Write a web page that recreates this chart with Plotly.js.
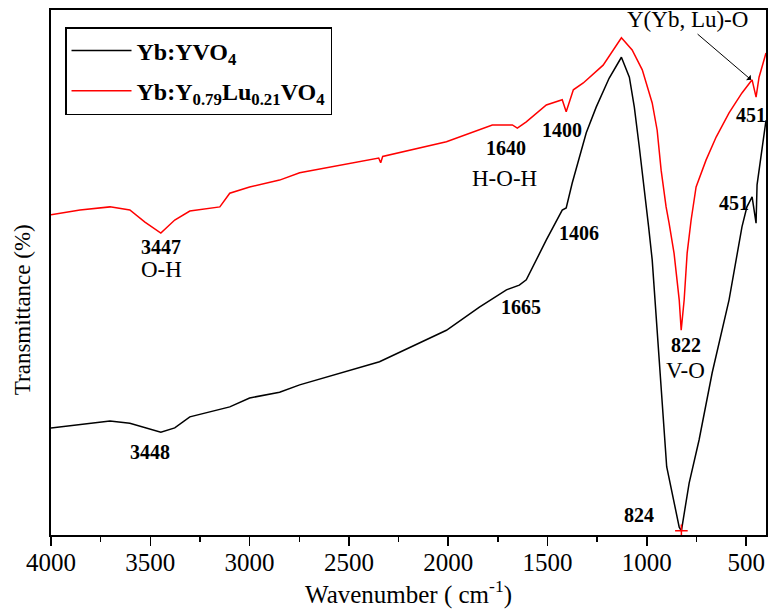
<!DOCTYPE html>
<html>
<head>
<meta charset="utf-8">
<script src="https://cdn.plot.ly/plotly-3.0.1.min.js"></script>
<style>html,body{margin:0;padding:0;background:#fff;}#chart{width:768px;height:615px;}</style>
</head>
<body>
<div id="chart"></div>
<script>
// Yb:YVO4 (black)
const blackWave = [4000,3854,3703,3603,3447,3377,3301,3100,3000,2849,2748,2346,2009,1843,1707,1642,1607,1506,1426,1406,1376,1305,1255,1190,1128,1088,1063,1038,1013,991,973,923,900,837,826,787,737,671,586,521,496,470,450,445,420,400];
const blackT    = [20.4,21.0,21.7,21.3,19.6,20.4,22.5,24.4,26.1,27.2,28.6,33.0,39.0,43.4,46.7,47.6,48.6,56.2,61.9,62.3,67.0,76.6,81.5,87.0,91.0,87.2,81.5,73.9,66.3,58.7,52.4,25.7,13.0,1.5,0.8,9.9,18.1,30.9,44.8,58.7,62.5,64.4,59.4,66.7,73.3,79.0];
// Yb:Y0.79Lu0.21VO4 (red)
const redWave = [4000,3854,3703,3603,3527,3447,3377,3301,3150,3100,3000,2849,2748,2350,2340,2330,2009,1778,1677,1652,1607,1506,1426,1406,1370,1320,1220,1128,1074,1023,973,948,928,903,888,863,837,827,812,797,777,752,702,651,586,521,470,450,435,400];
const redT    = [61.0,61.9,62.5,61.9,59.6,57.5,60.0,61.7,62.5,65.1,66.3,67.6,69.0,71.8,70.9,72.1,74.9,78.1,78.1,77.5,78.7,81.9,82.9,80.6,84.8,86.1,89.5,94.7,92.4,88.6,82.3,77.1,69.5,62.5,59.4,53.7,44.8,39.0,44.8,53.7,60.0,66.3,71.4,75.8,80.4,84.2,86.7,83.4,87.2,91.8];
const seriesNames = ["Yb:YVO<sub>4</sub>", "Yb:Y<sub>0.79</sub>Lu<sub>0.21</sub>VO<sub>4</sub>"];
const tickVals = [4000,3500,3000,2500,2000,1500,1000,500];
const tickText = ["4000","3500","3000","2500","2000","1500","1000","500"];
// peak labels: [text, wavenumber, value, bold]
const peakLabels = [
  ["3447",3447,54.9,true],["O-H",3442,50.5,false],["3448",3502,15.8,true],
  ["1665",1632,43.4,true],["1406",1340,57.5,true],["1640",1707,73.7,true],
  ["H-O-H",1717,68.0,false],["1400",1426,77.1,true],["822",802,36.2,true],
  ["V-O",807,31.4,false],["824",1038,3.8,true],["451",561,63.2,true],
  ["451",475,80.0,true],["Y(Yb, Lu)-O",797,98.1,false]
];
const markWave = [826], markT = [0.8];

const serif = "Liberation Serif";
const traces = [
  {x: blackWave, y: blackT, mode: "lines", name: "<b>" + seriesNames[0] + "</b>", legendgroup: "a", line: {color: "#000", width: 1.5}},
  {x: redWave, y: redT, mode: "lines", name: "<b>" + seriesNames[1] + "</b>", legendgroup: "b", line: {color: "#ff0000", width: 1.5}},
  {x: markWave, y: markT, mode: "markers", showlegend: false, marker: {symbol: "cross-thin", size: 9, line: {color: "#ff0000", width: 1.5}}, cliponaxis: false}
];
const annotations = peakLabels.map(p => ({
  x: p[1], y: p[2], xref: "x", yref: "y", showarrow: false,
  text: p[3] ? "<b>" + p[0] + "</b>" : p[0],
  font: {family: serif, size: p[3] ? 20 : 23, color: "#000"}
}));
annotations.push({x: 475, y: 86.7, xref: "x", yref: "y", text: "", showarrow: true,
  ax: -55, ay: -47, arrowhead: 1, arrowsize: 1.2, arrowwidth: 1, arrowcolor: "#000"});
annotations.push({x: -0.0406, y: 0.43, xref: "paper", yref: "paper", xanchor: "center", yanchor: "middle", showarrow: false,
  text: "Transmittance (%)", textangle: -90, font: {family: serif, size: 23, color: "#000"}});

const layout = {
  width: 768, height: 615,
  margin: {l: 51, r: 2, t: 10, b: 80},
  paper_bgcolor: "#fff", plot_bgcolor: "#fff",
  showlegend: true,
  legend: {x: 0.0196, y: 0.9676, xanchor: "left", yanchor: "top",
    bordercolor: "#000", borderwidth: 1.5, bgcolor: "#fff",
    font: {family: serif, size: 24, color: "#000"}, tracegroupgap: 6, itemwidth: 60},
  xaxis: {range: [4000, 400], tickvals: tickVals, ticktext: tickText,
    ticks: "outside", ticklen: 9, tickwidth: 1.5, tickcolor: "#000", ticklabelstandoff: -5,
    minor: {dtick: 250, ticks: "outside", ticklen: 5, tickwidth: 1.5, tickcolor: "#000"},
    showline: true, linecolor: "#000", linewidth: 2, mirror: true,
    showgrid: false, zeroline: false,
    tickfont: {family: serif, size: 25, color: "#000"},
    title: {text: "Wavenumber ( cm<sup>-1</sup>)", font: {family: serif, size: 25, color: "#000"}, standoff: 8}},
  yaxis: {range: [0, 100], showticklabels: false, ticks: "",
    showline: true, linecolor: "#000", linewidth: 2, mirror: true,
    showgrid: false, zeroline: false},
  annotations: annotations
};
Plotly.newPlot("chart", traces, layout, {displayModeBar: false, staticPlot: true});
</script>
</body>
</html>
